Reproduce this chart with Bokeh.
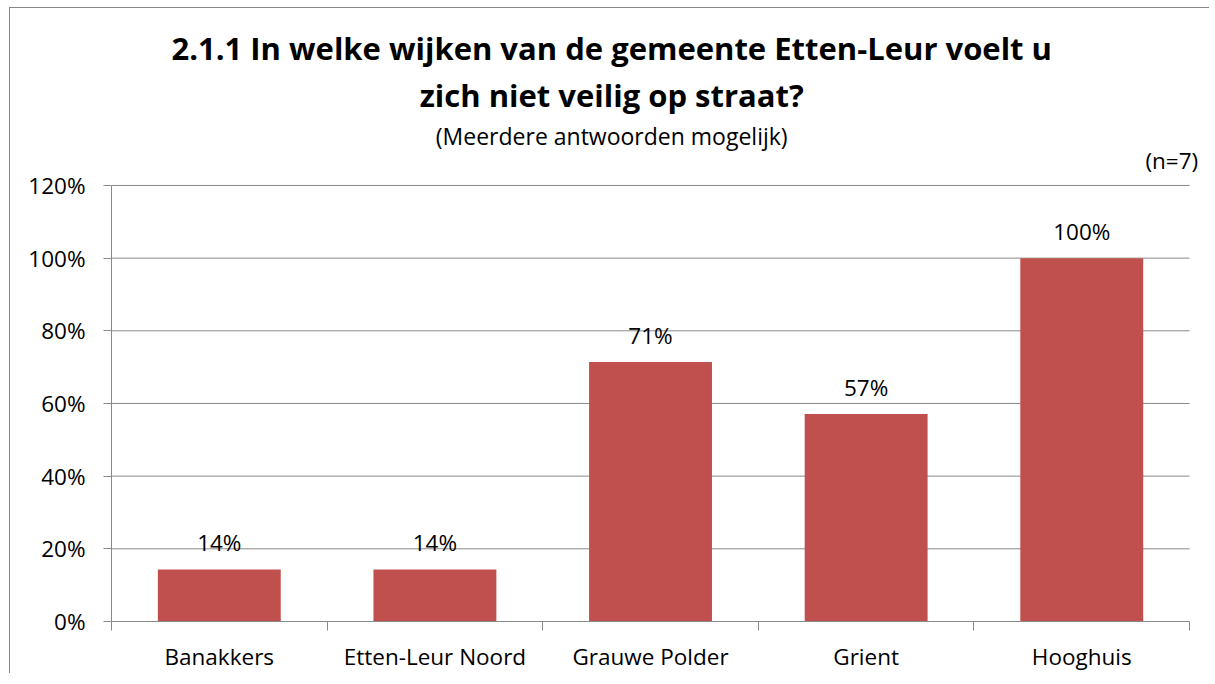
from bokeh.plotting import figure
from bokeh.models import Range1d, FixedTicker, PrintfTickFormatter, ColumnDataSource, LinearAxis
from bokeh.embed import file_html
from bokeh.resources import INLINE
from bokeh.core.properties import value

categories = ["Banakkers", "Etten-Leur Noord", "Grauwe Polder", "Grient", "Hooghuis"]
values = [14.3, 14.3, 71.4, 57.1, 100.0]
value_labels = ["14%", "14%", "71%", "57%", "100%"]
y_ticks = [0, 20, 40, 60, 80, 100, 120]
title_line1 = "2.1.1 In welke wijken van de gemeente Etten-Leur voelt u"
title_line2 = "zich niet veilig op straat?"
subtitle = "(Meerdere antwoorden mogelijk)"
n_note = "(n=7)"

FONT = "Open Sans"
GRAY = "#898989"
BAR = "#C0504D"

n = len(categories)
positions = [i + 0.5 for i in range(n)]
boundaries = [float(i) for i in range(n + 1)]
y_top = 168.7
x_end = n + 0.06

p = figure(width=1200, height=666, x_range=Range1d(0, x_end), y_range=Range1d(0, y_top),
           output_backend="svg", toolbar_location=None, x_axis_location=None,
           min_border_left=101, min_border_right=8, min_border_top=0, min_border_bottom=53)
p.title.text = ""
p.outline_line_color = None
p.background_fill_color = "white"
p.border_fill_color = "white"
p.styles = {"margin-left": "10px", "margin-top": "8px",
            "box-shadow": "-1px -1px 0 0 #868686"}

# horizontal gridlines from the tick values
p.segment(x0=[0] * len(y_ticks), y0=y_ticks, x1=[n] * len(y_ticks), y1=y_ticks,
          line_color=GRAY, line_width=1)

src = ColumnDataSource(dict(x=positions, top=values, lab=value_labels))
p.vbar(x="x", top="top", width=0.57, bottom=0, source=src, fill_color=BAR, line_color=None)

# x axis: labels at centers, ticks at category boundaries
xa = LinearAxis(ticker=FixedTicker(ticks=positions, minor_ticks=boundaries), bounds=(0, n))
xa.major_label_overrides = {pos: c for pos, c in zip(positions, categories)}
xa.major_tick_line_color = None
xa.major_tick_out = 9
xa.major_tick_in = 0
xa.minor_tick_line_color = GRAY
xa.minor_tick_out = 9
xa.minor_tick_in = 0
xa.axis_line_color = GRAY
xa.major_label_standoff = 10
xa.major_label_text_font = FONT
xa.major_label_text_font_size = "22.5px"
xa.major_label_text_color = "black"
p.add_layout(xa, "below")

ya = p.yaxis[0]
ya.ticker = FixedTicker(ticks=y_ticks, minor_ticks=[])
ya.bounds = (0, 120)
ya.formatter = PrintfTickFormatter(format="%d%%")
ya.major_tick_out = 8
ya.major_tick_in = 0
ya.major_tick_line_color = GRAY
ya.axis_line_color = GRAY
ya.major_label_standoff = 18
ya.major_label_text_font = FONT
ya.major_label_text_font_size = "22.5px"
ya.major_label_text_color = "black"

p.xgrid.visible = False
p.ygrid.visible = False

p.text(x="x", y="top", text="lab", source=src, text_align="center", text_baseline="middle",
       y_offset=-27, text_font=value(FONT), text_font_size="22.5px", text_color="black")

mid = 2.32
p.text(x=[mid, mid], y=[157.96, 144.76], text=[title_line1, title_line2], text_align="center",
       text_baseline="middle", text_font=value(FONT), text_font_style="bold",
       text_font_size="31px", text_color="black")
p.text(x=[mid], y=[133.5], text=[subtitle], text_align="center", text_baseline="middle",
       text_font=value(FONT), text_font_size="23px", text_color="black")
p.text(x=[n + 0.04], y=[127.0], text=[n_note], text_align="right", text_baseline="middle",
       text_font=value(FONT), text_font_size="22.5px", text_color="black")

open("out.html", "w").write(file_html(p, INLINE))
